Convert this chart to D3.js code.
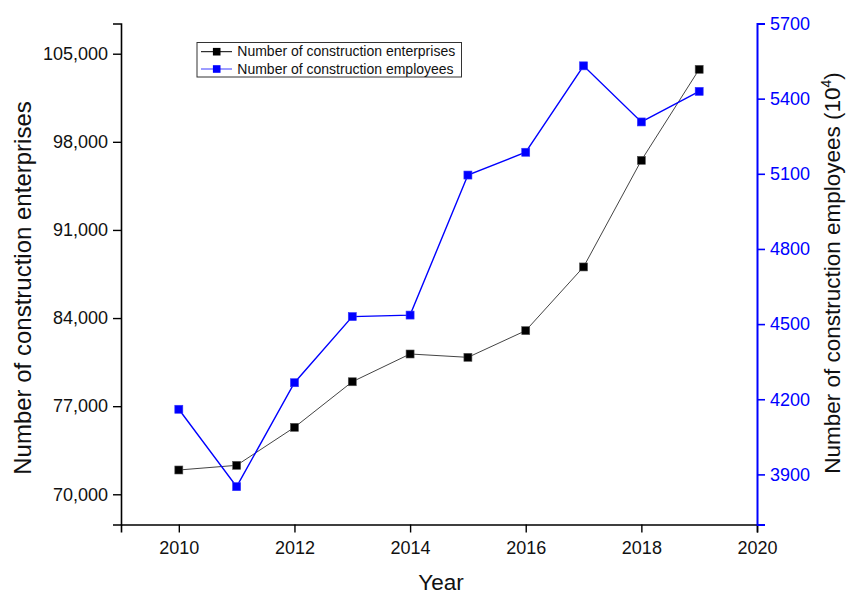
<!DOCTYPE html>
<html>
<head>
<meta charset="utf-8">
<script src="https://cdn.jsdelivr.net/npm/d3@7"></script>
<style>
  html, body { margin: 0; padding: 0; background: #ffffff; }
  svg { display: block; font-family: "Liberation Sans", Arial, sans-serif; }
</style>
</head>
<body>
<script>
// ---- data ----
const years = [2010, 2011, 2012, 2013, 2014, 2015, 2016, 2017, 2018, 2019];
const enterprises = [71930, 72300, 75320, 78940, 81145, 80880, 83000, 88060, 96530, 103760];
const employees = [4160, 3851, 4266, 4530, 4536, 5095, 5186, 5531, 5307, 5429];
const xTicks = [2010, 2012, 2014, 2016, 2018, 2020];
const leftTicks = [70000, 77000, 84000, 91000, 98000, 105000];
const rightTicks = [3900, 4200, 4500, 4800, 5100, 5400, 5700];
const seriesNames = ["Number of construction enterprises", "Number of construction employees"];

const W = 847, H = 594;
const m = { left: 121, right: 847 - 757, top: 23.5, bottom: 594 - 524.5 };
const blue = "#0000ff";
const FF = "Liberation Sans, Arial, sans-serif";

const svg = d3.select("body").append("svg").attr("width", W).attr("height", H);

const x = d3.scaleLinear().domain([2009, 2020]).range([m.left, W - m.right]);
const yL = d3.scaleLinear().domain([67600, 107400]).range([H - m.bottom, m.top]);
const yR = d3.scaleLinear().domain([3700, 5700]).range([H - m.bottom, m.top]);

const fmt = d3.format(",");

// minor ticks
const xMinor = d3.range(2009, 2020, 2);
const lMinor = d3.range(73500, 107400, 7000);
const rMinor = d3.range(3750, 5700, 300);

// bottom axis
const gx = svg.append("g").attr("transform", `translate(0,${H - m.bottom})`);
gx.call(d3.axisBottom(x).tickValues(xMinor).tickSize(5).tickFormat(""));
gx.call(d3.axisBottom(x).tickValues(xTicks).tickSize(8).tickPadding(9).tickFormat(d3.format("d")));
gx.selectAll("path").attr("stroke", "#000").attr("stroke-width", 1.6);
gx.selectAll("line").attr("stroke", "#000").attr("stroke-width", 1.4);
gx.selectAll("text").attr("font-size", 18).attr("fill", "#111").attr("font-family", FF);

// left axis
const gl = svg.append("g").attr("transform", `translate(${m.left},0)`);
gl.call(d3.axisLeft(yL).tickValues(lMinor).tickSize(5).tickFormat(""));
gl.call(d3.axisLeft(yL).tickValues(leftTicks).tickSize(8).tickPadding(5).tickFormat(fmt));
gl.selectAll("path").attr("stroke", "#000").attr("stroke-width", 1.6);
gl.selectAll("line").attr("stroke", "#000").attr("stroke-width", 1.4);
gl.selectAll("text").attr("font-size", 18).attr("fill", "#111").attr("font-family", FF);

// right axis
const gr = svg.append("g").attr("transform", `translate(${W - m.right},0)`);
gr.call(d3.axisRight(yR).tickValues(rMinor).tickSize(5).tickFormat(""));
gr.call(d3.axisRight(yR).tickValues(rightTicks).tickSize(8).tickPadding(5).tickFormat(d3.format("d")));
gr.selectAll("path").attr("stroke", blue).attr("stroke-width", 2);
gr.selectAll("line").attr("stroke", blue).attr("stroke-width", 1.6);
gr.selectAll("text").attr("font-size", 18).attr("fill", blue).attr("font-family", FF);

// lines
const lineL = d3.line().x((d, i) => x(years[i])).y(d => yL(d));
const lineR = d3.line().x((d, i) => x(years[i])).y(d => yR(d));

svg.append("path").datum(enterprises).attr("d", lineL)
  .attr("fill", "none").attr("stroke", "#444").attr("stroke-width", 1);
svg.append("path").datum(employees).attr("d", lineR)
  .attr("fill", "none").attr("stroke", blue).attr("stroke-width", 1.4);

const ms = 8;
svg.append("g").selectAll("rect").data(enterprises).join("rect")
  .attr("x", (d, i) => x(years[i]) - ms / 2).attr("y", d => yL(d) - ms / 2)
  .attr("width", ms).attr("height", ms).attr("fill", "#000").attr("stroke", "#555").attr("stroke-width", 0.6);
svg.append("g").selectAll("rect").data(employees).join("rect")
  .attr("x", (d, i) => x(years[i]) - ms / 2).attr("y", d => yR(d) - ms / 2)
  .attr("width", ms).attr("height", ms).attr("fill", blue).attr("stroke", "#3333ff").attr("stroke-width", 0.6);

// axis titles
svg.append("text").attr("x", 441).attr("y", 590).attr("text-anchor", "middle")
  .attr("font-size", 22.5).attr("fill", "#111").text("Year");
svg.append("text").attr("transform", `translate(31,288) rotate(-90)`)
  .attr("text-anchor", "middle").attr("font-size", 24).attr("fill", "#111")
  .text("Number of construction enterprises");
const rt = svg.append("text").attr("transform", `translate(840,273) rotate(-90)`)
  .attr("text-anchor", "middle").attr("font-size", 22.5).attr("fill", "#111");
rt.append("tspan").text("Number of construction employees (10");
rt.append("tspan").attr("font-size", 14).attr("dy", -9).text("4");
rt.append("tspan").attr("dy", 9).text(")");

// legend
const lg = svg.append("g");
lg.append("rect").attr("x", 197).attr("y", 42.5).attr("width", 264.5).attr("height", 34.5)
  .attr("fill", "#fff").attr("stroke", "#333").attr("stroke-width", 1);
const rowsY = [51.7, 69];
const colors = ["#000", blue];
const lcolors = ["#000", "#3a3aff"];
seriesNames.forEach((name, i) => {
  lg.append("line").attr("x1", 201).attr("x2", 232).attr("y1", rowsY[i]).attr("y2", rowsY[i])
    .attr("stroke", lcolors[i]).attr("stroke-width", 1);
  lg.append("rect").attr("x", 216.7 - 3.8).attr("y", rowsY[i] - 3.8).attr("width", 7.6).attr("height", 7.6)
    .attr("fill", colors[i]);
  lg.append("text").attr("x", 237.3).attr("y", rowsY[i] + 4.6).attr("font-size", 14).attr("fill", "#111").text(name);
});
</script>
</body>
</html>
